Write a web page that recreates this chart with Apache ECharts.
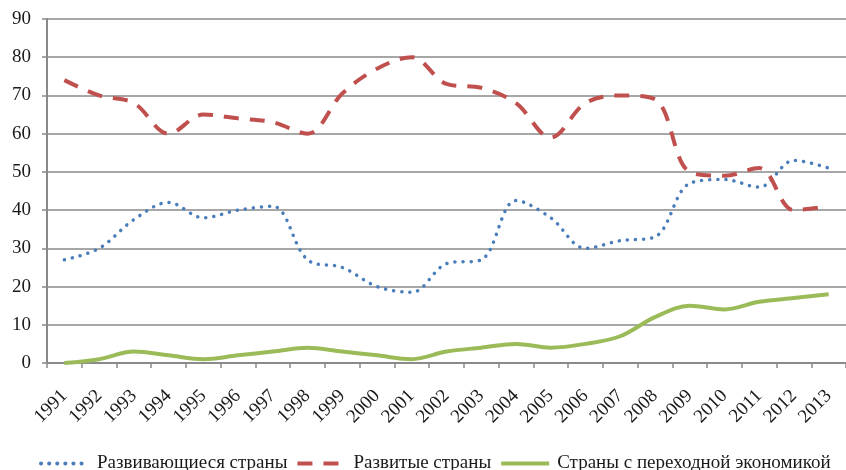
<!DOCTYPE html>
<html>
<head>
<meta charset="utf-8">
<script src="https://cdn.jsdelivr.net/npm/echarts@6/dist/echarts.min.js"></script>
<style>html,body{margin:0;padding:0;background:#fff}#c{width:846px;height:470px}</style>
</head>
<body>
<div id="c"></div>
<script>
const years = ['1991','1992','1993','1994','1995','1996','1997','1998','1999','2000','2001','2002','2003','2004','2005','2006','2007','2008','2009','2010','2011','2012','2013'];
const developing = [27, 30, 37.5, 42, 38, 40, 41, 27, 25, 20, 18.5, 26, 27, 42.5, 38, 30, 32, 33, 47, 48, 46, 53, 51];
const developed = [74, 70, 68, 60, 65, 64, 63, 60, 70.5, 77, 80, 73, 72, 68, 59, 68, 70, 69, 50, 49, 51, 40, 41];
const transition = [0, 1, 3, 2, 1, 2, 3, 4, 3, 2, 1, 3, 4, 5, 4, 5, 7, 12, 15, 14, 16, 17, 18];
const yTicks = [0, 10, 20, 30, 40, 50, 60, 70, 80, 90];
const seriesNames = ['Развивающиеся страны', 'Развитые страны', 'Страны с переходной экономикой'];

const font = 'Liberation Serif, Times New Roman, serif';
const gray = '#8a8a8a';
const chart = echarts.init(document.getElementById('c'), null, {renderer: 'canvas'});
chart.setOption({
  animation: false,
  backgroundColor: '#fff',
  grid: {left: 47, right: -9, top: 19, bottom: 107, containLabel: false},
  xAxis: {
    type: 'category',
    data: years,
    boundaryGap: true,
    axisLine: {lineStyle: {color: gray, width: 2}},
    axisTick: {show: true, length: 5, lineStyle: {color: gray, width: 1.5}},
    axisLabel: {rotate: 45, margin: 30, fontFamily: font, fontSize: 19, color: '#1a1a1a', interval: 0},
    splitLine: {show: false}
  },
  yAxis: {
    type: 'value',
    min: yTicks[0],
    max: yTicks[yTicks.length - 1],
    interval: 10,
    axisLine: {show: true, lineStyle: {color: gray, width: 2}},
    axisTick: {show: true, length: 5, lineStyle: {color: gray, width: 1.5}},
    axisLabel: {margin: 16, fontFamily: font, fontSize: 19, color: '#1a1a1a'},
    splitLine: {show: true, lineStyle: {color: gray, width: 1.5}}
  },
  legend: {
    left: 34,
    top: 449,
    itemWidth: 48,
    itemHeight: 14,
    itemGap: 8,
    itemStyle: {opacity: 0},
    lineStyle: {width: 4},
    textStyle: {fontFamily: font, fontSize: 19, color: '#1a1a1a', padding: [0, 0, 0, 3]},
    data: seriesNames
  },
  series: [
    {
      name: seriesNames[0], type: 'line', data: developing, smooth: 0.35, showSymbol: false, symbol: 'none',
      lineStyle: {color: '#4a7ebb', width: 3.5, type: [0.1, 8], cap: 'round'},
      itemStyle: {color: '#4a7ebb'}
    },
    {
      name: seriesNames[1], type: 'line', data: developed, smooth: 0.35, showSymbol: false, symbol: 'none',
      lineStyle: {color: '#c0504d', width: 4, type: [15, 11], cap: 'butt'},
      itemStyle: {color: '#c0504d'}
    },
    {
      name: seriesNames[2], type: 'line', data: transition, smooth: 0.35, showSymbol: false, symbol: 'none',
      lineStyle: {color: '#9bbb59', width: 4},
      itemStyle: {color: '#9bbb59'}
    }
  ]
});
</script>
</body>
</html>
